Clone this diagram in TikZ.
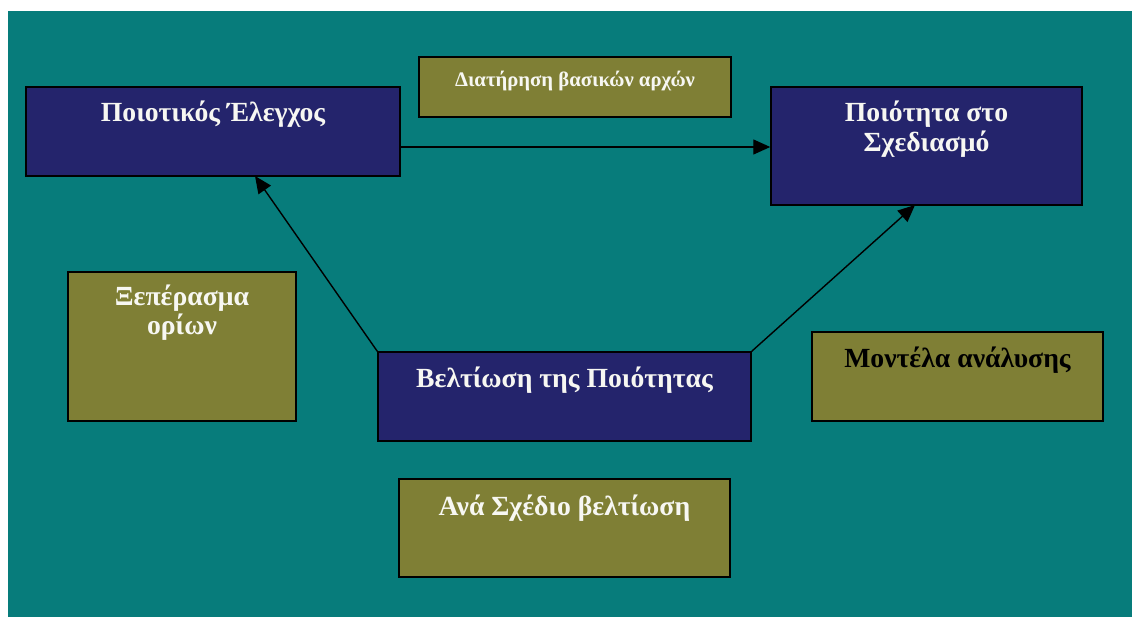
\documentclass[tikz,border=0pt]{standalone}
\usepackage{fontspec}
\setmainfont{Liberation Serif}
\usetikzlibrary{arrows.meta}
\definecolor{bgteal}{HTML}{077C7B}
\definecolor{navybox}{HTML}{24246C}
\definecolor{olivebox}{HTML}{7F7F35}
\definecolor{txtw}{HTML}{F7F7F2}
\tikzset{
  box/.style={draw=black, line width=1.5pt, rectangle, inner sep=0pt},
  navy/.style={box, fill=navybox},
  olive/.style={box, fill=olivebox},
  lbl/.style={anchor=base, inner sep=0pt, font=\bfseries\fontsize{27.7}{32}\selectfont, text=txtw},
  conn/.style={line width=1.4pt, -{Triangle[length=17pt,width=15pt]}}
}
\begin{document}
\begin{tikzpicture}[x=1pt,y=1pt]
\useasboundingbox (0,0) rectangle (1132,-617);
\fill[white] (0,0) rectangle (1132,-617);
\fill[bgteal] (8,-11) rectangle (1132,-617);

\node[navy, minimum width=374pt, minimum height=89pt] (A) at (213,-131.5) {};
\node[olive, minimum width=312pt, minimum height=60pt] (B) at (575,-87) {};
\node[navy, minimum width=311pt, minimum height=118pt] (C) at (926.5,-146) {};
\node[olive, minimum width=228pt, minimum height=149pt] (D) at (182,-346.5) {};
\node[navy, minimum width=373pt, minimum height=89pt] (E) at (564.5,-396.5) {};
\node[olive, minimum width=331pt, minimum height=98pt] (F) at (564.5,-528) {};
\node[olive, minimum width=291pt, minimum height=89pt] (G) at (957.5,-376.5) {};

\node[lbl] (tA) at (213,-122) {Ποιοτικός Έλεγχος};
\node[lbl, font=\bfseries\fontsize{20.7}{24}\selectfont] (tB) at (575,-87) {Διατήρηση βασικών αρχών};
\node[lbl] (tC1) at (926.5,-122) {Ποιότητα στο};
\node[lbl] (tC2) at (926.5,-152) {Σχεδιασμό};
\node[lbl] (tD1) at (182,-305.5) {Ξεπέρασμα};
\node[lbl] (tD2) at (182,-335) {ορίων};
\node[lbl] (tE) at (564.5,-388) {Βελτίωση της Ποιότητας};
\node[lbl] (tF) at (564.5,-515) {Ανά Σχέδιο βελτίωση};
\node[lbl, text=black] (tG) at (957.5,-367) {Μοντέλα ανάλυσης};

\coordinate (a1) at (400,-147);
\coordinate (a2) at (255,-176);
\coordinate (a3) at (915,-205);
\draw[conn] (a1) -- (a1 -| C.west);
\draw[conn] (E.north west) -- (a2);
\draw[conn] (E.north east) -- (a3);
\end{tikzpicture}
\end{document}
